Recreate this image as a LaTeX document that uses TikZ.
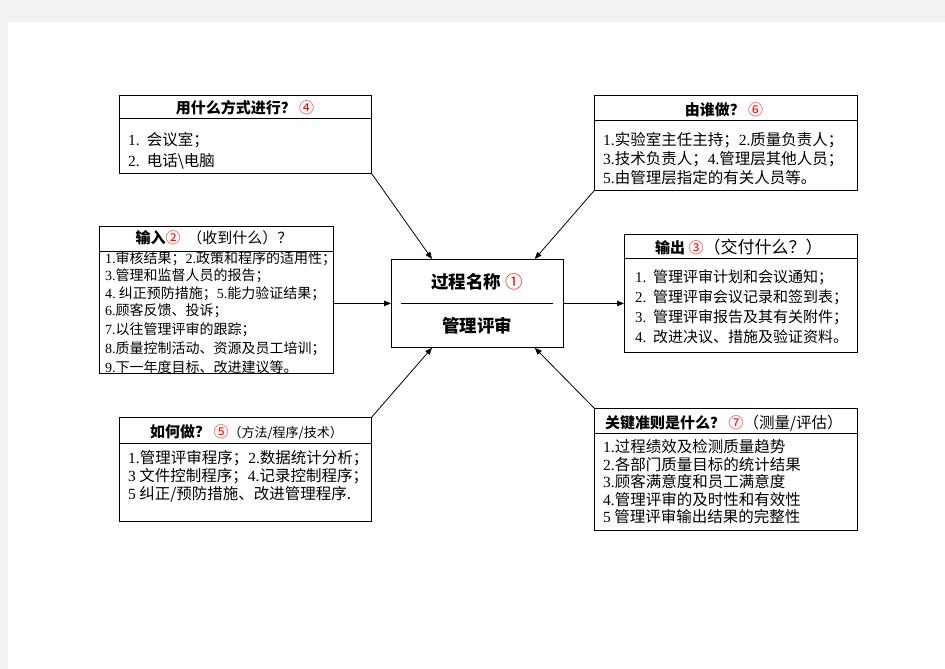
\documentclass[tikz,border=0pt]{standalone}
\usepackage{fontspec}
\setmainfont{Noto Sans CJK SC}
\newfontfamily\lat{Liberation Serif}
\usetikzlibrary{arrows.meta}
\newcommand\nm[1]{{\lat #1}}
\newcommand\rc[1]{{\color{red}\mdseries #1}}
\begin{document}
\begin{tikzpicture}[x=1pt,y=-1pt,
  frame/.style={draw, line width=0.8pt, anchor=north west, inner sep=0pt},
  sep/.style={line width=0.8pt},
  arr/.style={-{Triangle[length=7pt,width=5.5pt]}, line width=0.8pt},
  hd/.style={inner sep=0pt, font=\fontsize{15}{17}\selectfont},
  li/.style={anchor=west, inner sep=0pt, font=\fontsize{15.5}{17}\selectfont},
  lim/.style={anchor=west, inner sep=0pt, font=\fontsize{15}{17}\selectfont},
  lis/.style={anchor=west, inner sep=0pt, font=\fontsize{14}{15}\selectfont}]
\useasboundingbox (0,0) rectangle (945,669);
\fill[black!5] (0,0) rectangle (945,669);
\fill[white] (8,22) rectangle (945,669);

% frames
\node[frame, minimum width=252pt, minimum height=78pt]  (b4) at (119,95) {};
\node[frame, minimum width=263pt, minimum height=95pt]  (b6) at (594,95) {};
\node[frame, minimum width=234pt, minimum height=147pt] (b2) at (99,226) {};
\node[frame, minimum width=233pt, minimum height=118pt] (b3) at (624,234) {};
\node[frame, minimum width=172pt, minimum height=88pt]  (c)  at (391,259) {};
\node[frame, minimum width=252pt, minimum height=104pt] (b5) at (119,417) {};
\node[frame, minimum width=263pt, minimum height=122pt] (b7) at (594,408) {};

% header separators
\draw[sep] (b4.west |- 0,118) -- (b4.east |- 0,118);
\draw[sep] (b6.west |- 0,120) -- (b6.east |- 0,120);
\draw[sep] (b2.west |- 0,251) -- (b2.east |- 0,251);
\draw[sep] (b3.west |- 0,258) -- (b3.east |- 0,258);
\draw[sep] (b5.west |- 0,443) -- (b5.east |- 0,443);
\draw[sep] (b7.west |- 0,433) -- (b7.east |- 0,433);
\draw[line width=0.6pt] (401,303) -- (553,303);

% centre
\node[inner sep=0pt, font=\fontsize{17.5}{19}\selectfont\bfseries] (ct) at (477,282) {过程名称 \rc{①}};
\node[inner sep=0pt, font=\fontsize{17.5}{19}\selectfont\bfseries] (cb) at (477,326) {管理评审};

% box 4
\node[hd] (h4) at (245,108) {\bfseries 用什么方式进行？ \rc{④}};
\node[li] (l41) at (128,140) {\nm{1.}\ \ 会议室；};
\node[li] (l42) at (128,161) {\nm{2.}\ \ 电话\textbackslash 电脑};

% box 6
\node[hd] (h6) at (724,110) {\bfseries 由谁做？ \rc{⑥}};
\node[li] (l61) at (603,140) {\nm{1.}实验室主任主持；\nm{2.}质量负责人；};
\node[li] (l62) at (603,159) {\nm{3.}技术负责人；\nm{4.}管理层其他人员；};
\node[li] (l63) at (603,178) {\nm{5.}由管理层指定的有关人员等。};

% box 2
\node[hd] (h2) at (214,238) {{\bfseries 输入}\rc{②}\ \ （收到什么）？};
\node[lis] (l21) at (105,259) {\nm{1.}审核结果；\nm{2.}政策和程序的适用性；};
\node[lis] (l22) at (105,276) {\nm{3.}管理和监督人员的报告；};
\node[lis] (l23) at (105,294) {\nm{4.}\ 纠正预防措施；\nm{5.}能力验证结果；};
\node[lis] (l24) at (105,311) {\nm{6.}顾客反馈、投诉；};
\node[lis] (l25) at (105,330) {\nm{7.}以往管理评审的跟踪；};
\node[lis] (l26) at (105,349) {\nm{8.}质量控制活动、资源及员工培训；};
\node[lis] (l27) at (105,367) {\nm{9.}下一年度目标、改进建议等。};

% box 3
\node[hd, anchor=west] (h3) at (655,247) {{\bfseries 输出} \rc{③}{\fontsize{17}{19}\selectfont（交付什么？）}};
\node[lim] (l31) at (635,277) {\nm{1.}\ \ 管理评审计划和会议通知；};
\node[lim] (l32) at (635,297) {\nm{2.}\ \ 管理评审会议记录和签到表；};
\node[lim] (l33) at (635,317) {\nm{3.}\ \ 管理评审报告及其有关附件；};
\node[lim] (l34) at (635,337) {\nm{4.}\ \ 改进决议、措施及验证资料。};

% box 5
\node[hd, anchor=west] (h5) at (150,432) {{\bfseries 如何做？} \rc{⑤}{\fontsize{13}{15}\selectfont（方法/程序/技术）}};
\node[li] (l51) at (128,458) {\nm{1.}管理评审程序；\nm{2.}数据统计分析；};
\node[li] (l52) at (128,476) {\nm{3} 文件控制程序；\nm{4.}记录控制程序；};
\node[li] (l53) at (128,494) {\nm{5} 纠正/预防措施、改进管理程序.};

% box 7
\node[hd, anchor=west] (h7) at (605,423) {{\bfseries 关键准则是什么？} \rc{⑦}{\fontsize{15.5}{17}\selectfont（测量/评估）}};
\node[li] (l71) at (603,447) {\nm{1.}过程绩效及检测质量趋势};
\node[li] (l72) at (603,465) {\nm{2.}各部门质量目标的统计结果};
\node[li] (l73) at (603,482) {\nm{3.}顾客满意度和员工满意度};
\node[li] (l74) at (603,500) {\nm{4.}管理评审的及时性和有效性};
\node[li] (l75) at (603,517) {\nm{5} 管理评审输出结果的完整性};

% connectors
\draw[arr] (b4.south east) -- ([xshift=41pt]c.north west);
\draw[arr] (b6.south west) -- ([xshift=-29pt]c.north east);
\draw[arr] (c.west -| b2.east) -- (c.west);
\draw[arr] (c.east) -- (c.east -| b3.west);
\draw[arr] (b5.north east) -- ([xshift=41pt]c.south west);
\draw[arr] (b7.north west) -- ([xshift=-29pt]c.south east);
\end{tikzpicture}
\end{document}
